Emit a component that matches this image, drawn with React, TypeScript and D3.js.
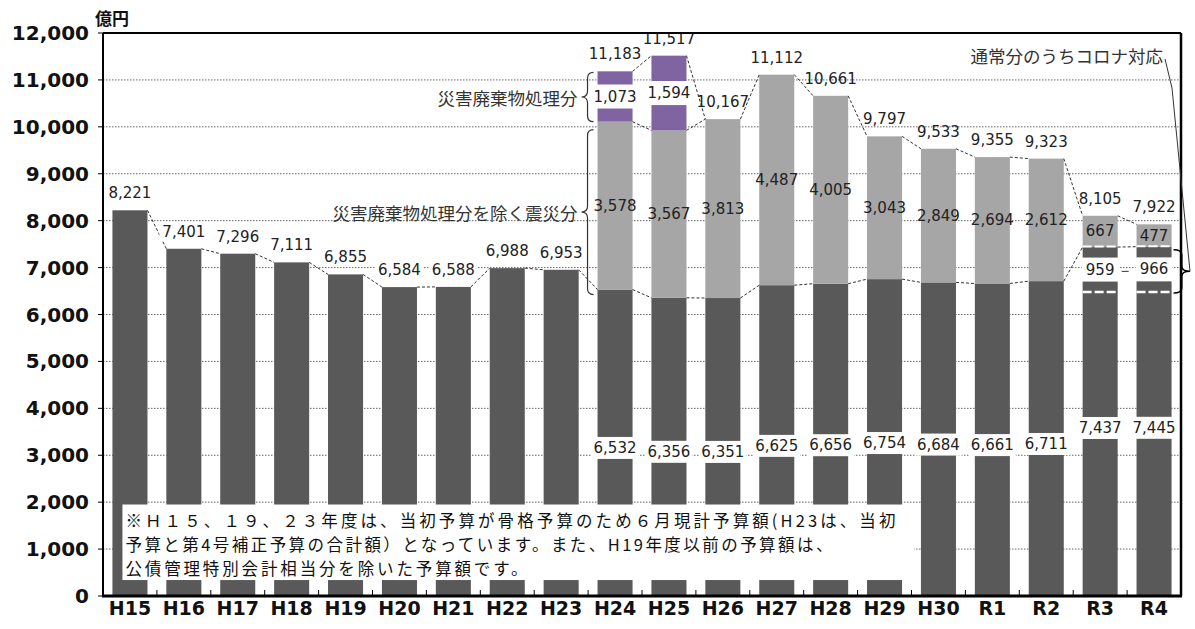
import React from 'react';
import * as d3 from 'd3';

const categories = ['H15','H16','H17','H18','H19','H20','H21','H22','H23','H24','H25','H26','H27','H28','H29','H30','R1','R2','R3','R4'];
// 通常分 (includes コロナ対応 for R3, R4)
const regularValues = [8221,7401,7296,7111,6855,6584,6588,6988,6953,6532,6356,6351,6625,6656,6754,6684,6661,6711,7437,7445];
// 通常分のうちコロナ対応
const coronaValues = [0,0,0,0,0,0,0,0,0,0,0,0,0,0,0,0,0,0,959,966];
// 災害廃棄物処理分を除く震災分 (R3, R4: 補正等)
const quakeValues = [0,0,0,0,0,0,0,0,0,3578,3567,3813,4487,4005,3043,2849,2694,2612,667,477];
// 災害廃棄物処理分
const wasteValues = [0,0,0,0,0,0,0,0,0,1073,1594,0,0,0,0,0,0,0,0,0];
// 合計 (labels)
const totalValues = [8221,7401,7296,7111,6855,6584,6588,6988,6953,11183,11517,10167,11112,10661,9797,9533,9355,9323,8105,7922];
const yTicks = [0,1000,2000,3000,4000,5000,6000,7000,8000,9000,10000,11000,12000];

const unitLabel = '億円';
const wasteLabel = '災害廃棄物処理分';
const quakeLabel = '災害廃棄物処理分を除く震災分';
const coronaLabel = '通常分のうちコロナ対応';
const noteLines = [
  '※Ｈ１５、１９、２３年度は、当初予算が骨格予算のため６月現計予算額(H23は、当初',
  '予算と第4号補正予算の合計額）となっています。また、H19年度以前の予算額は、',
  '公債管理特別会計相当分を除いた予算額です。',
];
const noteWidths = [770, 707, 402];

const NUM = "'DejaVu Sans', sans-serif";
const JP = "'Noto Sans CJK JP', sans-serif";
const DARK = '#595959';
const LIGHT = '#a6a6a6';
const PURPLE = '#8064a2';

function numWidth(s: string, size: number) {
  let w = 0;
  for (const c of s) w += c === ',' ? 0.318 : 0.636;
  return w * size;
}

export default function App() {
  const W = 1195, H = 629;
  const left = 103, right = 1181, top = 33, bottom = 596;
  const x = d3.scaleBand<string>().domain(categories).range([left, right]).paddingInner(0.35).paddingOuter(0.175);
  const y = d3.scaleLinear().domain([0, 12000]).range([bottom, top]);
  const bw = x.bandwidth();
  const step = x.step();
  const fmt = d3.format(',');
  const fs = 15;

  const darkTop = regularValues;
  const lightTop = regularValues.map((v, i) => v + quakeValues[i]);
  const purpleTop = lightTop.map((v, i) => v + wasteValues[i]);

  const seriesLines: { x1: number; y1: number; x2: number; y2: number }[] = [];
  for (let i = 0; i < categories.length - 1; i++) {
    const xa = (x(categories[i]) as number) + bw;
    const xb = x(categories[i + 1]) as number;
    seriesLines.push({ x1: xa, y1: y(darkTop[i]), x2: xb, y2: y(darkTop[i + 1]) });
    if (quakeValues[i] > 0 && quakeValues[i + 1] > 0) {
      seriesLines.push({ x1: xa, y1: y(lightTop[i]), x2: xb, y2: y(lightTop[i + 1]) });
    }
    if (quakeValues[i] > 0 && (wasteValues[i] > 0 || wasteValues[i + 1] > 0)) {
      seriesLines.push({ x1: xa, y1: y(purpleTop[i]), x2: xb, y2: y(purpleTop[i + 1]) });
    }
  }

  const i24 = categories.indexOf('H24');
  const x24 = x('H24') as number;
  const braceX = x24 - 4;
  const bw1 = 12;
  const leftBrace = (xr: number, y1: number, y2: number, w: number) => {
    const ym = (y1 + y2) / 2, xm = xr - w / 2, r = 6;
    return `M${xr},${y1} Q${xm},${y1} ${xm},${y1 + r} L${xm},${ym - r} Q${xm},${ym} ${xr - w},${ym} Q${xm},${ym} ${xm},${ym + r} L${xm},${y2 - r} Q${xm},${y2} ${xr},${y2}`;
  };
  const rightBrace = (xl: number, y1: number, y2: number, w: number) => {
    const ym = (y1 + y2) / 2, xm = xl + w / 2, r = 5;
    return `M${xl},${y1} Q${xm},${y1} ${xm},${y1 + r} L${xm},${ym - r} Q${xm},${ym} ${xl + w},${ym} Q${xm},${ym} ${xm},${ym + r} L${xm},${y2 - r} Q${xm},${y2} ${xl},${y2}`;
  };
  const wb1 = y(purpleTop[i24]) + 1, wb2 = y(lightTop[i24]);
  const qb1 = y(lightTop[i24]) + 8, qb2 = y(darkTop[i24]) + 5;

  const iR4 = categories.length - 1;
  const xR4 = (x('R4') as number) + bw;
  const cb1 = y(regularValues[iR4]) + 3;
  const cb2 = y(regularValues[iR4] - coronaValues[iR4]) + 1;
  const cbm = (cb1 + cb2) / 2;
  const cTip = right + 9;

  const boxLeft = (x('H15') as number) + 10;
  const boxRight = (x('H29') as number) + bw + 12;
  const boxTop = y(1950);
  const boxBottom = y(340);

  return (
    <svg width={W} height={H} style={{ position: 'absolute', left: 0, top: 0, background: '#fff' }}>
      <rect x={0} y={0} width={W} height={H} fill="#fff" />
      {/* gridlines */}
      {yTicks.filter(t => t > 0 && t < 12000).map(t => (
        <line key={'g' + t} x1={left} x2={right} y1={y(t)} y2={y(t)} stroke="#666" strokeWidth={1} strokeDasharray="1.5,1.5" />
      ))}
      {/* bars */}
      {categories.map((c, i) => {
        const bx = x(c) as number;
        return (
          <g key={'b' + c}>
            <rect x={bx} y={y(darkTop[i])} width={bw} height={y(0) - y(darkTop[i])} fill={DARK} />
            {quakeValues[i] > 0 && (
              <rect x={bx} y={y(lightTop[i])} width={bw} height={y(darkTop[i]) - y(lightTop[i])} fill={LIGHT} />
            )}
            {wasteValues[i] > 0 && (
              <rect x={bx} y={y(purpleTop[i])} width={bw} height={y(lightTop[i]) - y(purpleTop[i])} fill={PURPLE} />
            )}
            {coronaValues[i] > 0 && (
              <g>
                <line x1={bx} x2={bx + bw} y1={y(darkTop[i]) - 0.5} y2={y(darkTop[i]) - 0.5} stroke="#fff" strokeWidth={2} strokeDasharray="9,3" />
                <line x1={bx} x2={bx + bw} y1={y(darkTop[i] - coronaValues[i])} y2={y(darkTop[i] - coronaValues[i])} stroke="#fff" strokeWidth={2.5} strokeDasharray="9,3" />
              </g>
            )}
          </g>
        );
      })}
      {/* series lines */}
      {seriesLines.map((s, k) => (
        <line key={'s' + k} x1={s.x1} y1={s.y1} x2={s.x2} y2={s.y2} stroke="#333" strokeWidth={1} strokeDasharray="3,2" />
      ))}
      <line x1={(x('R3') as number) + bw + 4} x2={x('R4') as number} y1={cbm} y2={cbm} stroke="#333" strokeWidth={1} strokeDasharray="7,20" />
      {/* labels */}
      {categories.map((c, i) => {
        const cx = (x(c) as number) + bw / 2;
        const items: React.ReactNode[] = [];
        const tTxt = fmt(totalValues[i]);
        const tY = y(purpleTop[i]) - 17;
        if (quakeValues[i] === 0) {
          const tw = numWidth(tTxt, fs) + 6;
          items.push(<rect key="tb" x={cx - tw / 2} y={tY - 9} width={tw} height={18} fill="#fff" />);
        }
        items.push(<text key="t" x={cx} y={tY} textAnchor="middle" dominantBaseline="central" fontFamily={NUM} fontSize={fs} fill="#222">{tTxt}</text>);
        if (quakeValues[i] > 0) {
          const dTxt = fmt(regularValues[i]);
          const dY = y(0.47 * regularValues[i] + 86);
          const dw = Math.max(numWidth(dTxt, fs) + 4, bw + 2);
          items.push(<rect key="db" x={cx - dw / 2} y={dY - 11} width={dw} height={22} fill="#fff" />);
          items.push(<text key="d" x={cx} y={dY} textAnchor="middle" dominantBaseline="central" fontFamily={NUM} fontSize={fs} fill="#222">{dTxt}</text>);
          const lY = y((darkTop[i] + lightTop[i]) / 2);
          items.push(<text key="l" x={cx} y={lY} textAnchor="middle" dominantBaseline="central" fontFamily={NUM} fontSize={fs} fill="#222">{fmt(quakeValues[i])}</text>);
        }
        if (wasteValues[i] > 0) {
          const pY = y((lightTop[i] + purpleTop[i]) / 2);
          items.push(<rect key="pb" x={cx - bw / 2 - 1} y={pY - 12} width={bw + 2} height={24} fill="#fff" />);
          items.push(<text key="p" x={cx} y={pY} textAnchor="middle" dominantBaseline="central" fontFamily={NUM} fontSize={fs} fill="#222">{fmt(wasteValues[i])}</text>);
        }
        if (coronaValues[i] > 0) {
          const cY = y(darkTop[i] - coronaValues[i] / 2);
          items.push(<rect key="cb" x={cx - bw / 2 - 1} y={cY - 12} width={bw + 2} height={24} fill="#fff" />);
          items.push(<text key="c" x={cx} y={cY} textAnchor="middle" dominantBaseline="central" fontFamily={NUM} fontSize={fs} fill="#222">{fmt(coronaValues[i])}</text>);
        }
        return <g key={'lab' + c}>{items}</g>;
      })}
      {/* note box */}
      <rect x={boxLeft} y={boxTop} width={boxRight - boxLeft} height={boxBottom - boxTop} fill="#fff" />
      {noteLines.map((t, k) => (
        <text key={'n' + k} x={boxLeft + 3} y={boxTop + 22 + k * 24} fontFamily={JP} fontSize={16.5} fill="#111"
          textLength={noteWidths[k]} lengthAdjust="spacing">{t}</text>
      ))}
      {/* frame */}
      <line x1={left} x2={right} y1={top} y2={top} stroke="#000" strokeWidth={2} />
      <line x1={right} x2={right} y1={top} y2={bottom} stroke="#000" strokeWidth={2.5} />
      <line x1={left} x2={left} y1={top} y2={bottom} stroke="#000" strokeWidth={2} />
      {yTicks.map(t => (
        <line key={'yt' + t} x1={left - 5} x2={left} y1={y(t)} y2={y(t)} stroke="#000" strokeWidth={1} />
      ))}
      {categories.slice(1).map((c, i) => (
        <line key={'xt' + c} x1={left + (i + 1) * step} x2={left + (i + 1) * step} y1={bottom} y2={bottom - 6} stroke="#000" strokeWidth={1} />
      ))}
      <line x1={left - 1} x2={right + 1} y1={bottom} y2={bottom} stroke="#000" strokeWidth={3} />
      {/* y tick labels */}
      {yTicks.map(t => (
        <text key={'yl' + t} x={89} y={y(t)} textAnchor="end" dominantBaseline="central" fontFamily={NUM} fontWeight="bold" fontSize={20} fill="#111">{fmt(t)}</text>
      ))}
      {/* x tick labels */}
      {categories.map(c => (
        <text key={'xl' + c} x={(x(c) as number) + bw / 2} y={608} textAnchor="middle" dominantBaseline="central" fontFamily={NUM} fontWeight="bold" fontSize={19} fill="#111">{c}</text>
      ))}
      <text x={95} y={25} fontFamily={JP} fontWeight="bold" fontSize={17} fill="#111">{unitLabel}</text>
      {/* braces */}
      <path d={leftBrace(braceX, wb1, wb2, bw1)} fill="none" stroke="#333" strokeWidth={1.2} />
      <path d={leftBrace(braceX, qb1, qb2, bw1)} fill="none" stroke="#333" strokeWidth={1.2} />
      <text x={braceX - bw1 - 4} y={(wb1 + wb2) / 2} textAnchor="end" dominantBaseline="central" fontFamily={JP} fontSize={17.5} fill="#333">{wasteLabel}</text>
      <text x={braceX - bw1 - 4} y={(qb1 + qb2) / 2} textAnchor="end" dominantBaseline="central" fontFamily={JP} fontSize={17.5} fill="#333">{quakeLabel}</text>
      <path d={rightBrace(xR4 + 2, cb1, cb2, cTip - xR4 - 2)} fill="none" stroke="#000" strokeWidth={1.5} />
      <polyline points={`${cTip},${cbm} ${right - 9},${top + 55} ${right - 16},${top + 26}`} fill="none" stroke="#333" strokeWidth={1} />
      <text x={right - 18} y={top + 22} textAnchor="end" dominantBaseline="central" fontFamily={JP} fontSize={17.5} fill="#333">{coronaLabel}</text>
    </svg>
  );
}
